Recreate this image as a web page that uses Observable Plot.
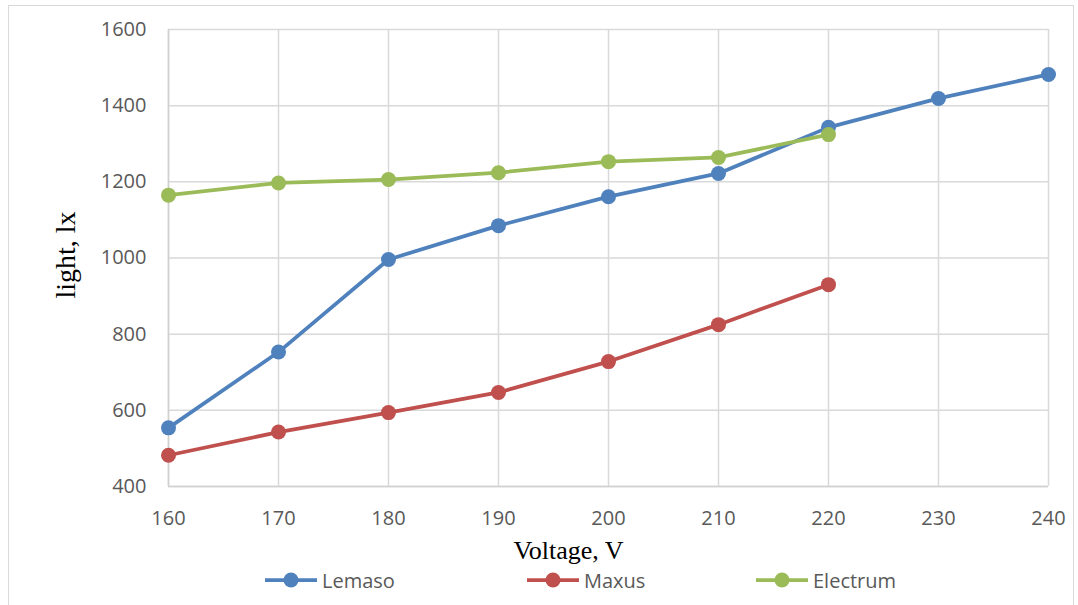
<!DOCTYPE html>
<html>
<head>
<meta charset="utf-8">
<script src="https://cdn.jsdelivr.net/npm/d3@7"></script>
<script src="https://cdn.jsdelivr.net/npm/@observablehq/plot@0.6"></script>
<style>
  html, body { margin: 0; padding: 0; background: #fff; }
  body { width: 1078px; height: 605px; position: relative; overflow: hidden; font-family: "Open Sans", sans-serif; }
  #frame { position: absolute; left: 8px; top: 5px; width: 1066px; height: 640px; border: 1.5px solid #d9d9d9; box-sizing: border-box; }
  #chart { position: absolute; left: 0; top: 0; }
  #legend { position: absolute; left: 0; top: 566px; width: 1078px; height: 28px; }
  .item { position: absolute; top: 0; height: 28px; display: flex; align-items: center; font-size: 20px; color: #595959; }
  .item svg { margin-right: 5px; }
</style>
</head>
<body>
<div id="frame"></div>
<div id="chart"></div>
<div id="legend"></div>
<script>
const voltages = [160, 170, 180, 190, 200, 210, 220, 230, 240];
const lemaso   = [554, 753, 996, 1085, 1161, 1222, 1343, 1419, 1482];
const maxus    = [482, 543, 594, 647, 728, 825, 930];
const electrum = [1165, 1197, 1206, 1224, 1253, 1264, 1324];
const seriesNames = ["Lemaso", "Maxus", "Electrum"];
const seriesColors = ["#4f81bd", "#c0504d", "#9bbb59"];
const xTicks = [160, 170, 180, 190, 200, 210, 220, 230, 240];
const yTicks = [400, 600, 800, 1000, 1200, 1400, 1600];

const seriesValues = [lemaso, maxus, electrum];
const rows = [];
seriesValues.forEach((vals, si) => {
  vals.forEach((v, i) => rows.push({series: seriesNames[si], x: voltages[i], y: v}));
});

const marks = [
  Plot.gridX(xTicks, {stroke: "#d9d9d9", strokeOpacity: 1, strokeWidth: 1.5}),
  Plot.gridY(yTicks, {stroke: "#d9d9d9", strokeOpacity: 1, strokeWidth: 1.5}),
  Plot.ruleX([160], {stroke: "#d0d0d0", strokeWidth: 1.5}),
  Plot.ruleY([400], {stroke: "#d0d0d0", strokeWidth: 1.5})
];
seriesNames.forEach((name, si) => {
  const d = rows.filter(r => r.series === name);
  marks.push(Plot.line(d, {x: "x", y: "y", stroke: seriesColors[si], strokeWidth: 3.75}));
  marks.push(Plot.dot(d, {x: "x", y: "y", fill: seriesColors[si], r: 7.5, stroke: "none"}));
});
marks.push(
  Plot.axisX(xTicks, {tickSize: 0, tickPadding: 24, fontSize: 20, fill: "#595959", label: null, fontFamily: "Open Sans", tickFormat: d => String(d)}),
  Plot.axisY(yTicks, {tickSize: 0, tickPadding: 22, fontSize: 20, fill: "#595959", label: null, fontFamily: "Open Sans", tickFormat: d => String(d)}),
  Plot.text(["Voltage, V"], {frameAnchor: "bottom", dx: -40, dy: 64, lineAnchor: "middle", fontFamily: "Liberation Serif", fontSize: 26, fill: "#000"}),
  Plot.text(["light, lx"], {frameAnchor: "left", dx: -102, dy: -3, rotate: -90, lineAnchor: "middle", textAnchor: "middle", fontFamily: "Liberation Serif", fontSize: 28, fill: "#000"})
);

const chart = Plot.plot({
  width: 1078,
  height: 560,
  marginTop: 29,
  marginLeft: 168,
  marginRight: 30,
  marginBottom: 74,
  style: {background: "transparent", overflow: "visible"},
  x: {domain: [160, 240]},
  y: {domain: [400, 1600]},
  marks
});
document.getElementById("chart").appendChild(chart);

const legendPos = [265, 527, 756];
const legend = document.getElementById("legend");
seriesNames.forEach((name, si) => {
  const div = document.createElement("div");
  div.className = "item";
  div.style.left = legendPos[si] + "px";
  div.innerHTML = `<svg width="52" height="20"><line x1="0" y1="10" x2="52" y2="10" stroke="${seriesColors[si]}" stroke-width="3.75"/><circle cx="26" cy="10" r="7.5" fill="${seriesColors[si]}"/></svg><span>${name}</span>`;
  legend.appendChild(div);
});
</script>
</body>
</html>
